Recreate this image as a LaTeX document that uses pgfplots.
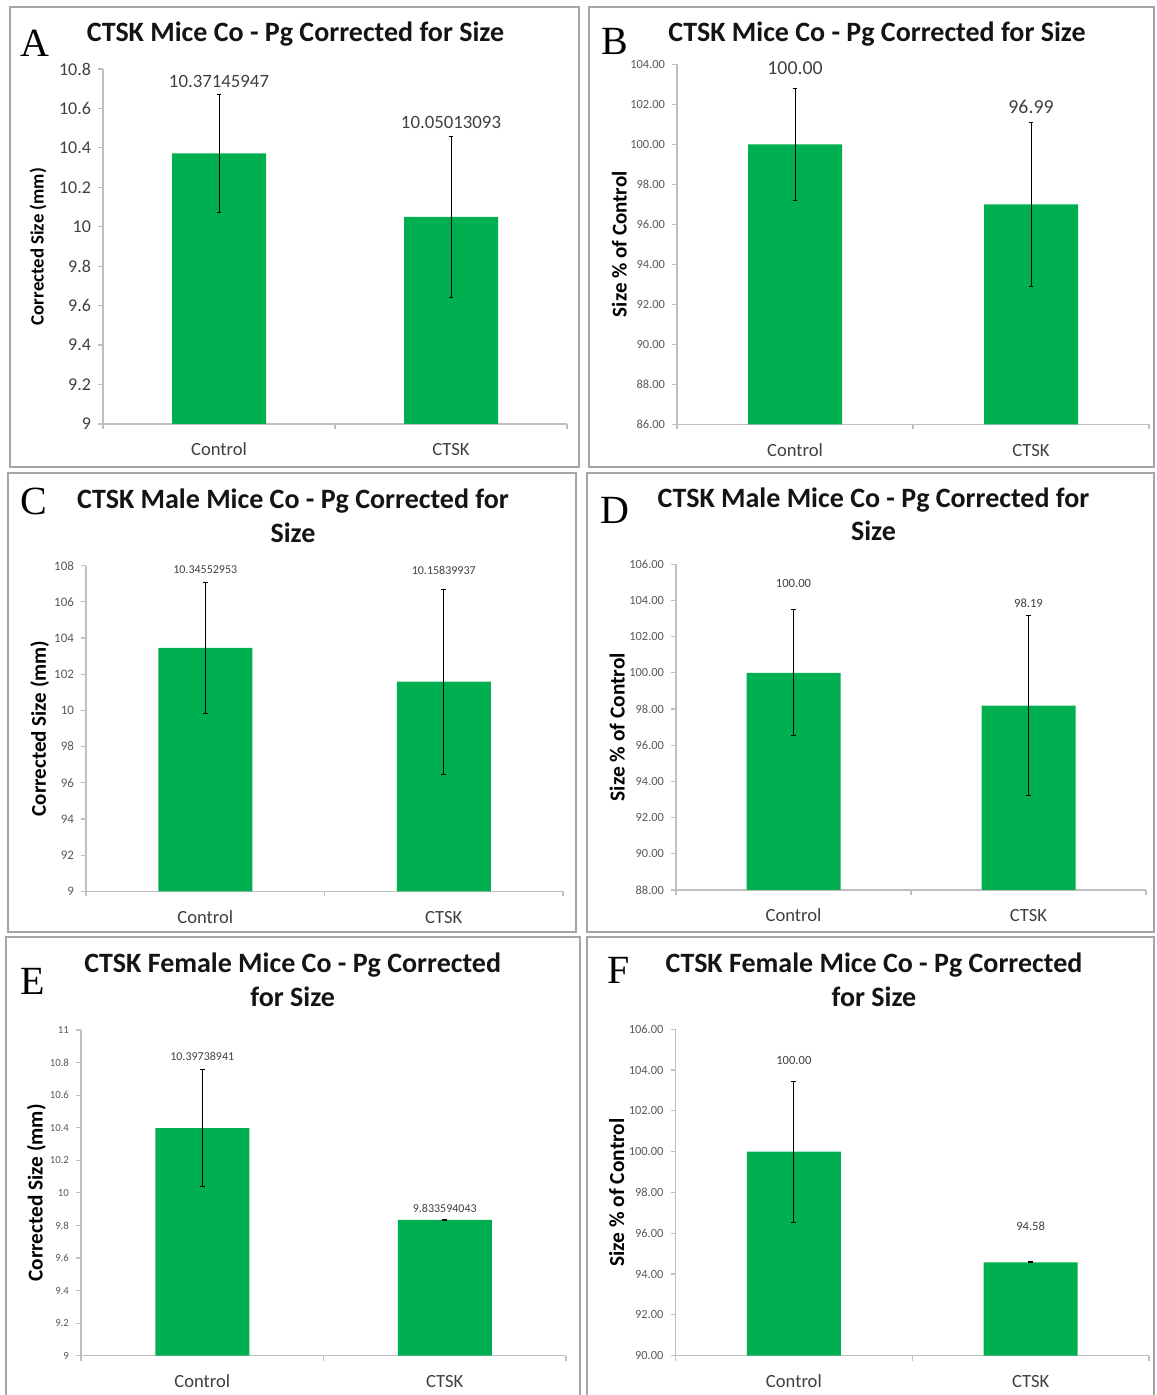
\documentclass[border=0pt]{standalone}
\usepackage{pgfplots}
\pgfplotsset{compat=1.18}
\usepackage{pgfplotstable}
\usepackage{fontspec}
\setmainfont{Carlito}
\newfontfamily\lettfont{Liberation Serif}
\definecolor{bargreen}{RGB}{0,176,80}
\definecolor{axgray}{RGB}{191,191,191}
\definecolor{txtgray}{RGB}{64,64,64}
\definecolor{tickgray}{RGB}{89,89,89}
\definecolor{boxgray}{RGB}{165,165,165}
\definecolor{titleblack}{RGB}{20,20,20}

\pgfplotstableread{
x y err ly label
0 10.37145947 0.30 10.739 10.37145947
1 10.05013093 0.41 10.531 10.05013093
}\dA
\pgfplotstableread{
x y err ly label
0 100.00 2.80 103.80 100.00
1 96.99 4.10 101.85 96.99
}\dB
\pgfplotstableread{
x y err ly label
0 10.34552953 0.36 10.778 10.34552953
1 10.15839937 0.51 10.772 10.15839937
}\dC
\pgfplotstableread{
x y err ly label
0 100.00 3.48 104.95 100.00
1 98.19 4.97 103.85 98.19
}\dD
\pgfplotstableread{
x y err ly label
0 10.39738941 0.36 10.84 10.39738941
1 9.833594043 0.002 9.905 9.833594043
}\dE
\pgfplotstableread{
x y err ly label
0 100.00 3.45 104.48 100.00
1 94.58 0.02 96.36 94.58
}\dF

\pgfplotsset{
  panel/.style={
    scale only axis,
    anchor=south west,
    clip=false,
    axis x line=bottom, axis y line=left,
    axis line style={axgray, line width=0.6pt, -},
    xmin=-0.5, xmax=1.5,
    xtick={-0.5,0.5,1.5}, xticklabels={},
    extra x ticks={0,1}, extra x tick labels={Control,CTSK},
    extra x tick style={major tick length=0pt},
    tick align=outside,
    major tick length=2.5pt,
    tick style={axgray, line width=0.6pt},
    xticklabel style={font=\fontsize{9.3}{10}\selectfont, text=txtgray, anchor=base, yshift=-16pt},
    yticklabel style={text=tickgray},
  },
  barplot/.style={ybar, bar shift=0pt, bar width=47pt, fill=bargreen, draw=none,
    error bars/.cd, y dir=both, y explicit,
    error bar style={black, line width=0.45pt},
    error mark options={rotate=90, mark size=1.2pt, black, line width=0.45pt}},
  labplot/.style={draw=none, mark=none, nodes near coords, point meta=explicit symbolic,
    nodes near coords style={anchor=center, text=txtgray, font=\fontsize{#1}{#1}\selectfont}},
}

\begin{document}
\begin{tikzpicture}
\useasboundingbox (0,0) rectangle (578pt,697.5pt);

% decorations in pixel coordinates
\begin{scope}[x=0.5pt, y=-0.5pt, yshift=697.5pt]
\draw[boxgray, line width=0.8pt] (10,7) rectangle (579,467);
\draw[boxgray, line width=0.8pt] (589,7) rectangle (1154,467);
\draw[boxgray, line width=0.8pt] (8,473) rectangle (576,932);
\draw[boxgray, line width=0.8pt] (587,473) rectangle (1154,932);
\draw[boxgray, line width=0.8pt] (6,937) rectangle (580,1398);
\draw[boxgray, line width=0.8pt] (587,937) rectangle (1154,1398);

\tikzset{ttl/.style={font=\bfseries\fontsize{14}{16}\selectfont, text=titleblack, anchor=base, inner sep=0pt},
         let/.style={font=\lettfont\fontsize{20}{20}\selectfont, text=black, anchor=base west, inner sep=0pt}}
\node[ttl] at (295.5,42) {CTSK Mice Co - Pg Corrected for Size};
\node[ttl] at (877,42) {CTSK Mice Co - Pg Corrected for Size};
\node[ttl] at (293,509) {CTSK Male Mice Co - Pg Corrected for};
\node[ttl] at (293,543) {Size};
\node[ttl] at (873.5,508) {CTSK Male Mice Co - Pg Corrected for};
\node[ttl] at (873.5,541) {Size};
\node[ttl] at (292.7,973) {CTSK Female Mice Co - Pg Corrected};
\node[ttl] at (292.7,1007) {for Size};
\node[ttl] at (874,973) {CTSK Female Mice Co - Pg Corrected};
\node[ttl] at (874,1007) {for Size};

\node[let] at (20,57) {A};
\node[let] at (601,55) {B};
\node[let] at (20,515) {C};
\node[let] at (600,524) {D};
\node[let] at (20,995) {E};
\node[let] at (607,984) {F};
\end{scope}

% ---------- A ----------
\begin{axis}[panel, at={(51.5pt,485.5pt)}, width=232pt, height=177.5pt,
  ymin=9, ymax=10.8,
  ytick={9,9.2,9.4,9.6,9.8,10,10.2,10.4,10.6,10.8},
  yticklabels={9,9.2,9.4,9.6,9.8,10,10.2,10.4,10.6,10.8},
  yticklabel style={font=\fontsize{9}{10}\selectfont, text=txtgray},
  ylabel={Corrected Size (mm)},
  ylabel style={at={(axis description cs:-0.140,0.5)}, anchor=center, font=\bfseries\fontsize{9.4}{10}\selectfont},
]
\addplot[barplot] table[x=x, y=y, y error=err] {\dA};
\addplot[labplot=9.4] table[x=x, y=ly, meta=label] {\dA};
\end{axis}

% ---------- B ----------
\begin{axis}[panel, at={(338.5pt,485.35pt)}, width=236pt, height=180pt,
  ymin=86, ymax=104,
  ytick={86,88,90,92,94,96,98,100,102,104},
  yticklabels={86.00,88.00,90.00,92.00,94.00,96.00,98.00,100.00,102.00,104.00},
  yticklabel style={font=\fontsize{6.2}{7}\selectfont},
  ylabel={Size \% of Control},
  ylabel style={at={(axis description cs:-0.122,0.5)}, anchor=center, font=\bfseries\fontsize{10.5}{11}\selectfont},
]
\addplot[barplot] table[x=x, y=y, y error=err] {\dB};
\addplot[labplot=9.9] table[x=x, y=ly, meta=label] {\dB};
\end{axis}

% ---------- C ----------
\begin{axis}[panel, at={(43pt,251.85pt)}, width=238.5pt, height=162.8pt,
  ymin=9, ymax=10.8,
  ytick={9,9.2,9.4,9.6,9.8,10,10.2,10.4,10.6,10.8},
  yticklabels={9,92,94,96,98,10,102,104,106,108},
  yticklabel style={font=\fontsize{6.5}{7}\selectfont},
  ylabel={Corrected Size (mm)},
  ylabel style={at={(axis description cs:-0.097,0.5)}, anchor=center, font=\bfseries\fontsize{10.5}{11}\selectfont},
]
\addplot[barplot] table[x=x, y=y, y error=err] {\dC};
\addplot[labplot=6] table[x=x, y=ly, meta=label] {\dC};
\end{axis}

% ---------- D ----------
\begin{axis}[panel, at={(338pt,252.5pt)}, width=235pt, height=162.85pt,
  ymin=88, ymax=106,
  ytick={88,90,92,94,96,98,100,102,104,106},
  yticklabels={88.00,90.00,92.00,94.00,96.00,98.00,100.00,102.00,104.00,106.00},
  yticklabel style={font=\fontsize{6.2}{7}\selectfont},
  ylabel={Size \% of Control},
  ylabel style={at={(axis description cs:-0.125,0.5)}, anchor=center, font=\bfseries\fontsize{10.7}{11}\selectfont},
]
\addplot[barplot] table[x=x, y=y, y error=err] {\dD};
\addplot[labplot=6.3] table[x=x, y=ly, meta=label] {\dD};
\end{axis}

% ---------- E ----------
\begin{axis}[panel, at={(40.5pt,19.65pt)}, width=242.5pt, height=162.85pt,
  ymin=9, ymax=11,
  ytick={9,9.2,9.4,9.6,9.8,10,10.2,10.4,10.6,10.8,11},
  yticklabels={9,9.2,9.4,9.6,9.8,10,10.2,10.4,10.6,10.8,11},
  yticklabel style={font=\fontsize{5.4}{6}\selectfont},
  ylabel={Corrected Size (mm)},
  ylabel style={at={(axis description cs:-0.092,0.5)}, anchor=center, font=\bfseries\fontsize{10.6}{11}\selectfont},
]
\addplot[barplot] table[x=x, y=y, y error=err] {\dE};
\addplot[labplot=6] table[x=x, y=ly, meta=label] {\dE};
\end{axis}

% ---------- F ----------
\begin{axis}[panel, at={(337.75pt,19.65pt)}, width=236.75pt, height=163.2pt,
  ymin=90, ymax=106,
  ytick={90,92,94,96,98,100,102,104,106},
  yticklabels={90.00,92.00,94.00,96.00,98.00,100.00,102.00,104.00,106.00},
  yticklabel style={font=\fontsize{6.2}{7}\selectfont},
  ylabel={Size \% of Control},
  ylabel style={at={(axis description cs:-0.124,0.5)}, anchor=center, font=\bfseries\fontsize{10.7}{11}\selectfont},
]
\addplot[barplot] table[x=x, y=y, y error=err] {\dF};
\addplot[labplot=6.3] table[x=x, y=ly, meta=label] {\dF};
\end{axis}
\end{tikzpicture}
\end{document}
